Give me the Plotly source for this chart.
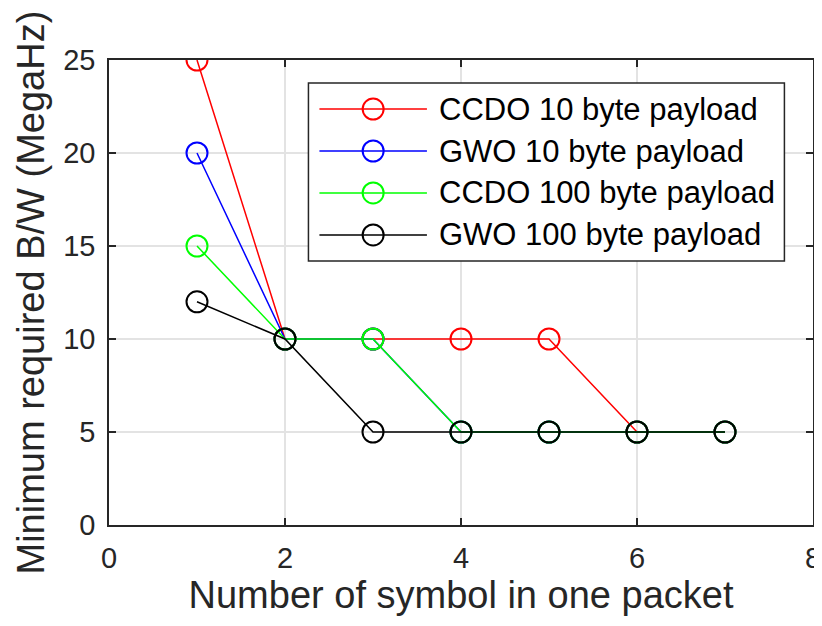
import plotly.graph_objects as go

symbols = [1, 2, 3, 4, 5, 6, 7]

ccdo_10 = [25, 10, 10, 10, 10, 5, 5]
gwo_10 = [20, 10, 10, 5, 5, 5, 5]
ccdo_100 = [15, 10, 10, 5, 5, 5, 5]
gwo_100 = [12, 10, 5, 5, 5, 5, 5]

series = [
    ("CCDO 10 byte payload", ccdo_10, "#ff0000"),
    ("GWO 10 byte payload", gwo_10, "#0000ff"),
    ("CCDO 100 byte payload", ccdo_100, "#00ff00"),
    ("GWO 100 byte payload", gwo_100, "#000000"),
]

fig = go.Figure()
for name, vals, col in series:
    fig.add_trace(go.Scatter(
        x=symbols, y=vals, mode="lines+markers", name=name,
        line=dict(color=col, width=1.5),
        marker=dict(symbol="circle-open", size=21, color=col, line=dict(width=2)),
        showlegend=False,
    ))

# matlab-style legend box drawn by hand (long line samples)
box = dict(x0=0.2833, x1=0.9594, y0=0.568, y1=0.9505)
row_y = [0.8946, 0.8043, 0.714, 0.6237]
line_x = (0.2989, 0.4516)
mark_x = 0.3752
text_x = 0.4658

fig.add_shape(type="rect", xref="paper", yref="paper", layer="above",
              fillcolor="white", line=dict(color="#262626", width=1.5), **box)
for (name, vals, col), ry in zip(series, row_y):
    fig.add_shape(type="line", xref="paper", yref="paper", layer="above",
                  x0=line_x[0], x1=line_x[1], y0=ry, y1=ry,
                  line=dict(color=col, width=1.5))
    fig.add_shape(type="circle", xref="paper", yref="paper", layer="above",
                  xsizemode="pixel", ysizemode="pixel", xanchor=mark_x, yanchor=ry,
                  x0=-10.5, x1=10.5, y0=-10.5, y1=10.5,
                  fillcolor="rgba(0,0,0,0)", line=dict(color=col, width=2))
    fig.add_annotation(x=text_x, y=ry, xref="paper", yref="paper", text=name,
                       showarrow=False, xanchor="left", yanchor="middle",
                       font=dict(size=31, color="#000000"))

# y label as annotation so it can sit a bit closer to the edge
fig.add_annotation(x=0, y=0.5, xref="paper", yref="paper", xshift=-79,
                   text="Minimum required B/W (MegaHz)", textangle=-90,
                   showarrow=False, xanchor="center", yanchor="middle",
                   font=dict(size=38, color="#262626"))

axis_style = dict(
    showline=True, linecolor="#262626", linewidth=1.5, mirror="ticks",
    ticks="inside", ticklen=7, tickcolor="#262626", tickwidth=1.5,
    showgrid=True, gridcolor="#e3e3e3", gridwidth=1.5, zeroline=False,
    tickfont=dict(size=29, color="#262626"), ticklabelstandoff=6,
)

fig.update_xaxes(range=[0, 8], dtick=2,
                 title=dict(text="Number of symbol in one packet", font=dict(size=38, color="#262626"), standoff=6),
                 **axis_style)
fig.update_yaxes(range=[0, 25], dtick=5, **axis_style)

fig.update_layout(
    width=822, height=626,
    margin=dict(l=101, r=9, t=52, b=109),
    paper_bgcolor="white", plot_bgcolor="white",
    font=dict(family="Arial, Liberation Sans, sans-serif", color="#000000"),
    showlegend=False,
)

fig.write_html("out.html")
